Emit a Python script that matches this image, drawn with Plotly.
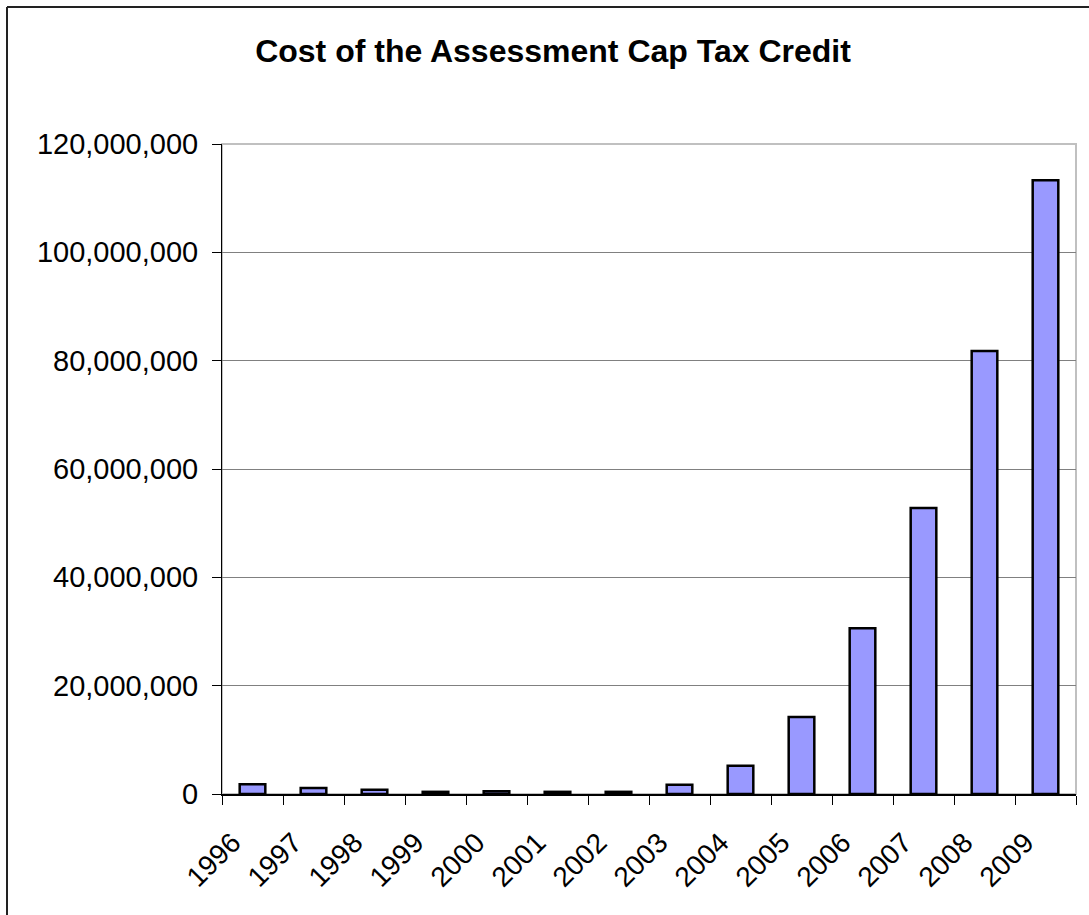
import plotly.graph_objects as go

# Annual cost of the assessment cap tax credit (dollars)
years = ["1996", "1997", "1998", "1999", "2000", "2001", "2002",
         "2003", "2004", "2005", "2006", "2007", "2008", "2009"]
cost = [1_800_000, 1_100_000, 800_000, 400_000, 500_000, 400_000, 400_000,
        1_700_000, 5_200_000, 14_200_000, 30_600_000, 52_800_000, 81_800_000, 113_300_000]
y_ticks = [0, 20_000_000, 40_000_000, 60_000_000, 80_000_000, 100_000_000, 120_000_000]

W, H = 1089, 915
ML, MR, MT, MB = 222, 13, 144, 121
PW, PH = W - ML - MR, H - MT - MB

FONT = "Liberation Sans, Arial, sans-serif"

fig = go.Figure(
    go.Bar(
        x=years,
        y=cost,
        width=0.42,
        marker=dict(color="#9999FF", line=dict(color="#000000", width=2.5)),
    )
)

# chart frame (left and top edges) and plot-area border
fig.add_shape(type="line", xref="paper", yref="paper",
              x0=(7 - ML) / PW, x1=(W - ML) / PW,
              y0=1 + (MT - 7) / PH, y1=1 + (MT - 7) / PH,
              line=dict(color="#222222", width=2))
fig.add_shape(type="line", xref="paper", yref="paper",
              x0=(7 - ML) / PW, x1=(7 - ML) / PW,
              y0=1 + (MT - 7) / PH, y1=-(H - MT - PH) / PH,
              line=dict(color="#222222", width=2))
fig.add_shape(type="rect", xref="paper", yref="paper",
              x0=0, x1=1, y0=0, y1=1, layer="below",
              line=dict(color="#C0C0C0", width=2))

fig.update_layout(
    width=W, height=H,
    margin=dict(l=ML, r=MR, t=MT, b=MB, autoexpand=False),
    paper_bgcolor="white",
    plot_bgcolor="white",
    showlegend=False,
    font=dict(family=FONT, size=29, color="#000000"),
    title=dict(
        text="<b>Cost of the Assessment Cap Tax Credit</b>",
        xref="container", yref="container",
        x=553 / W, y=1 - 51 / H,
        xanchor="center", yanchor="middle",
        font=dict(family=FONT, size=32, color="#000000"),
    ),
    xaxis=dict(
        type="category",
        automargin=False,
        showline=True, linecolor="#000000", linewidth=2,
        ticks="outside", tickson="boundaries", ticklen=9, tickwidth=1,
        tickcolor="#000000",
        tickangle=-45,
        showgrid=False,
        ticklabelstandoff=19,
        ticklabelshift=-20,
        tickfont=dict(family=FONT, size=28),
    ),
    yaxis=dict(
        range=[0, 120_000_000],
        automargin=False,
        tickvals=y_ticks,
        tickformat=",d",
        showline=True, linecolor="#000000", linewidth=1,
        ticks="outside", ticklen=9, tickwidth=1, tickcolor="#000000",
        showgrid=True, gridcolor="#808080", gridwidth=1,
        zeroline=False,
        ticklabelstandoff=8,
        tickfont=dict(family=FONT, size=29),
    ),
)

fig.write_html("out.html")
